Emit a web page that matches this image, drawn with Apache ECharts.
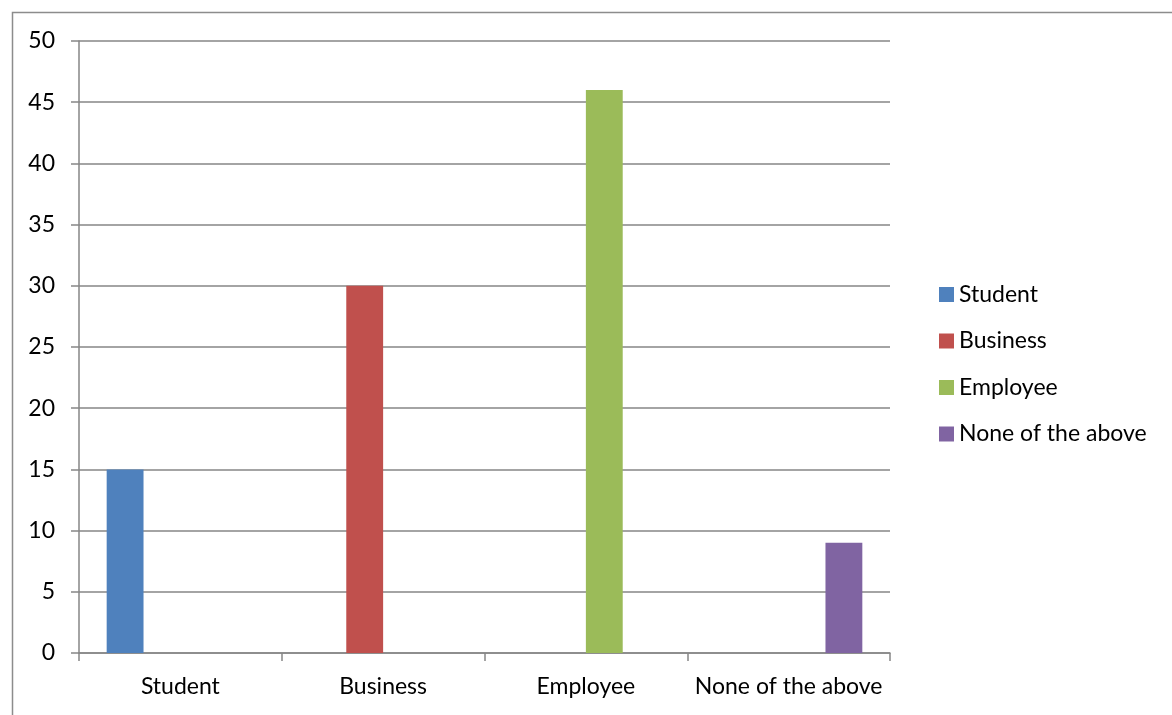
<!DOCTYPE html>
<html>
<head>
<meta charset="utf-8">
<script src="https://cdn.jsdelivr.net/npm/echarts@6/dist/echarts.min.js"></script>
<style>
html,body{margin:0;padding:0;background:#fff;}
#c{width:1172px;height:715px;}
</style>
</head>
<body>
<div id="c"></div>
<script>
const categories = ['Student', 'Business', 'Employee', 'None of the above'];
const seriesNames = ['Student', 'Business', 'Employee', 'None of the above'];
const studentValues = [15, null, null, null];
const businessValues = [null, 30, null, null];
const employeeValues = [null, null, 46, null];
const noneValues = [null, null, null, 9];
const yTicks = [0, 5, 10, 15, 20, 25, 30, 35, 40, 45, 50];

const colors = ['#4F81BD', '#C0504D', '#9BBB59', '#8064A2'];
const values = [studentValues, businessValues, employeeValues, noneValues];
const font = 'Lato, "Liberation Sans", sans-serif';

const chart = echarts.init(document.getElementById('c'));
chart.setOption({
  animation: false,
  color: colors,
  graphic: [{
    type: 'rect', left: 10, top: 10, silent: true,
    shape: { width: 1300, height: 900 },
    style: { fill: 'none', stroke: '#8c8c8c', lineWidth: 1.5 }
  }],
  grid: { left: 79, right: 282, top: 41, bottom: 62 },
  legend: {
    orient: 'vertical', left: 934, top: 278,
    icon: 'rect', itemWidth: 15, itemHeight: 15, itemGap: 23.5, itemTextGap: 7,
    textStyle: { fontFamily: font, fontSize: 23, color: '#000' },
    data: seriesNames
  },
  xAxis: {
    type: 'category', data: categories,
    axisLine: { lineStyle: { color: '#868686', width: 1.5 } },
    axisTick: { show: true, interval: 0, length: 8, alignWithLabel: false, lineStyle: { color: '#868686', width: 1.5 } },
    axisLabel: { interval: 0, fontFamily: font, fontSize: 23, color: '#000', margin: 22 }
  },
  yAxis: {
    type: 'value', min: yTicks[0], max: yTicks[yTicks.length - 1], interval: 5,
    axisLine: { show: true, lineStyle: { color: '#868686', width: 1.5 } },
    axisTick: { show: true, length: 8, lineStyle: { color: '#868686', width: 1.5 } },
    splitLine: { lineStyle: { color: '#868686', width: 1.5 } },
    axisLabel: { fontFamily: font, fontSize: 23, color: '#000', margin: 24 }
  },
  series: seriesNames.map((n, i) => ({
    name: n, type: 'bar', data: values[i],
    barGap: '0%', barCategoryGap: '27.3%',
    itemStyle: { color: colors[i] }
  }))
});
</script>
</body>
</html>
